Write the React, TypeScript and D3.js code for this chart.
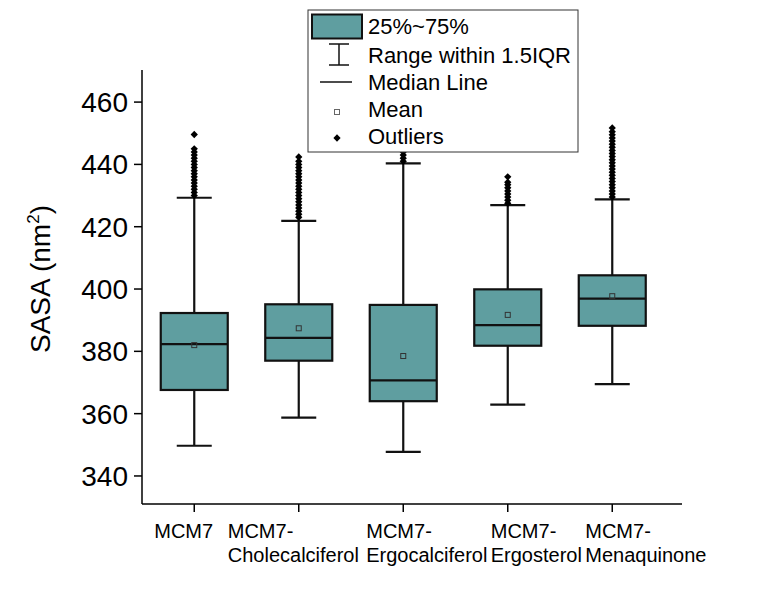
import * as d3 from 'd3';

// categories and box statistics (SASA, nm^2)
const categories = ['MCM7', 'MCM7-Cholecalciferol', 'MCM7-Ergocalciferol', 'MCM7-Ergosterol', 'MCM7-Menaquinone'];
const labelLines = [
  ['MCM7'],
  ['MCM7-', 'Cholecalciferol'],
  ['MCM7-', 'Ergocalciferol'],
  ['MCM7-', 'Ergosterol'],
  ['MCM7-', 'Menaquinone'],
];
const q1 = [367.6, 377.0, 364.0, 381.8, 388.2];
const medians = [382.3, 384.3, 370.7, 388.4, 396.9];
const q3 = [392.3, 395.1, 394.9, 399.9, 404.4];
const whiskerLow = [349.7, 358.7, 347.7, 362.9, 369.5];
const whiskerHigh = [429.3, 421.9, 440.3, 426.9, 428.8];
const means = [382.0, 387.4, 378.5, 391.7, 397.7];
const outliers = [
  [430, 431, 432, 433, 434, 435, 436, 437, 438, 439, 440, 441, 442, 443, 444, 445, 449.6],
  [423, 424, 425, 426, 427, 428, 429, 430, 431, 432, 433, 434, 435, 436, 437, 438, 439, 440, 441, 442.4],
  [441, 442, 443, 444],
  [427.5, 428.5, 429.5, 430.5, 431.5, 432.5, 433.5, 434.3, 436],
  [429.5, 430.5, 431.5, 432.5, 433.5, 434.5, 435.5, 436.5, 437.5, 438.5, 439.5, 440.5, 441.5, 442.5, 443.5, 444.5, 445.5, 446.5, 447.5, 448.5, 449.5, 450.5, 451.7],
];
const yTicks = [340, 360, 380, 400, 420, 440, 460];
const legendItems = ['25%~75%', 'Range within 1.5IQR', 'Median Line', 'Mean', 'Outliers'];

// per-label horizontal offset of the text block from its tick
const labelDx = [-40, -71, -37, -17, -27];

const FILL = '#5F9EA0';
const FONT = 'Arial, "Liberation Sans", sans-serif';

export default function App() {
  const width = 774;
  const height = 599;
  const left = 142, right = 682, top = 70, bottom = 504;

  const x = d3.scaleBand<string>().domain(categories).range([left, left + 5 * 104.5]).padding(0);
  const y = d3.scaleLinear().domain([331, 470.3]).range([bottom, top]);
  const cx = (c: string) => (x(c) ?? 0) + x.bandwidth() / 2;
  const boxW = 67;
  const capW = 35;
  const diamond = d3.symbol().type(d3.symbolDiamond2).size(34)() ?? '';

  const lx = 337;
  const rowY = [26, 55, 82, 109, 136];

  return (
    <svg width={width} height={height} style={{ position: 'absolute', left: 0, top: 0 }} fontFamily={FONT}>
      <rect width={width} height={height} fill="#fff" />

      {/* axes */}
      <line x1={left} y1={top} x2={left} y2={bottom} stroke="#000" strokeWidth={1.5} />
      <line x1={left} y1={bottom} x2={right} y2={bottom} stroke="#000" strokeWidth={1.5} />
      {yTicks.map(t => (
        <g key={t}>
          <line x1={left - 8} x2={left} y1={y(t)} y2={y(t)} stroke="#000" strokeWidth={1.5} />
          <text x={left - 14} y={y(t)} dy="0.36em" textAnchor="end" fontSize={28}>{t}</text>
        </g>
      ))}
      <text transform={`translate(50,279) rotate(-90)`} textAnchor="middle" fontSize={28}>
        SASA (nm<tspan fontSize={17} dy={-11}>2</tspan><tspan dy={11}>)</tspan>
      </text>

      {categories.map((c, i) => (
        <g key={c}>
          <line x1={cx(c)} x2={cx(c)} y1={bottom} y2={bottom + 8} stroke="#000" strokeWidth={1.5} />
          {labelLines[i].map((s, j) => (
            <text key={j} x={cx(c) + labelDx[i]} y={538 + j * 24} fontSize={20}>{s}</text>
          ))}
        </g>
      ))}

      {/* boxes */}
      {categories.map((c, i) => {
        const m = cx(c);
        return (
          <g key={c} stroke="#111" strokeWidth={2.2}>
            <line x1={m} x2={m} y1={y(whiskerHigh[i])} y2={y(q3[i])} />
            <line x1={m} x2={m} y1={y(q1[i])} y2={y(whiskerLow[i])} />
            <line x1={m - capW / 2} x2={m + capW / 2} y1={y(whiskerHigh[i])} y2={y(whiskerHigh[i])} />
            <line x1={m - capW / 2} x2={m + capW / 2} y1={y(whiskerLow[i])} y2={y(whiskerLow[i])} />
            <rect x={m - boxW / 2} width={boxW} y={y(q3[i])} height={y(q1[i]) - y(q3[i])} fill={FILL} />
            <line x1={m - boxW / 2} x2={m + boxW / 2} y1={y(medians[i])} y2={y(medians[i])} />
            <rect x={m - 2.5} y={y(means[i]) - 2.5} width={5} height={5} fill="none" stroke="#333" strokeWidth={1} />
            {outliers[i].map((v, k) => (
              <path key={k} d={diamond} transform={`translate(${m},${y(v)})`} fill="#000" stroke="none" />
            ))}
          </g>
        );
      })}

      {/* legend */}
      <g>
        <rect x={308} y={10} width={270} height={142} fill="#fff" stroke="#333" strokeWidth={1} />
        <rect x={312} y={14.5} width={50} height={24} fill={FILL} stroke="#111" strokeWidth={2} />
        <line x1={lx + 2} x2={lx + 2} y1={44} y2={65} stroke="#111" strokeWidth={1.5} />
        <line x1={lx - 8} x2={lx + 12} y1={44} y2={44} stroke="#111" strokeWidth={1.5} />
        <line x1={lx - 8} x2={lx + 12} y1={65} y2={65} stroke="#111" strokeWidth={1.5} />
        <line x1={320} x2={352} y1={82} y2={82} stroke="#111" strokeWidth={1.5} />
        <rect x={lx - 2.5} y={109.5} width={5} height={5} fill="none" stroke="#666" strokeWidth={1} />
        <path d={diamond} transform={`translate(${lx},${138})`} fill="#000" />
        {legendItems.map((s, i) => (
          <text key={s} x={368} y={rowY[i]} dy="0.36em" fontSize={22}>{s}</text>
        ))}
      </g>
    </svg>
  );
}
